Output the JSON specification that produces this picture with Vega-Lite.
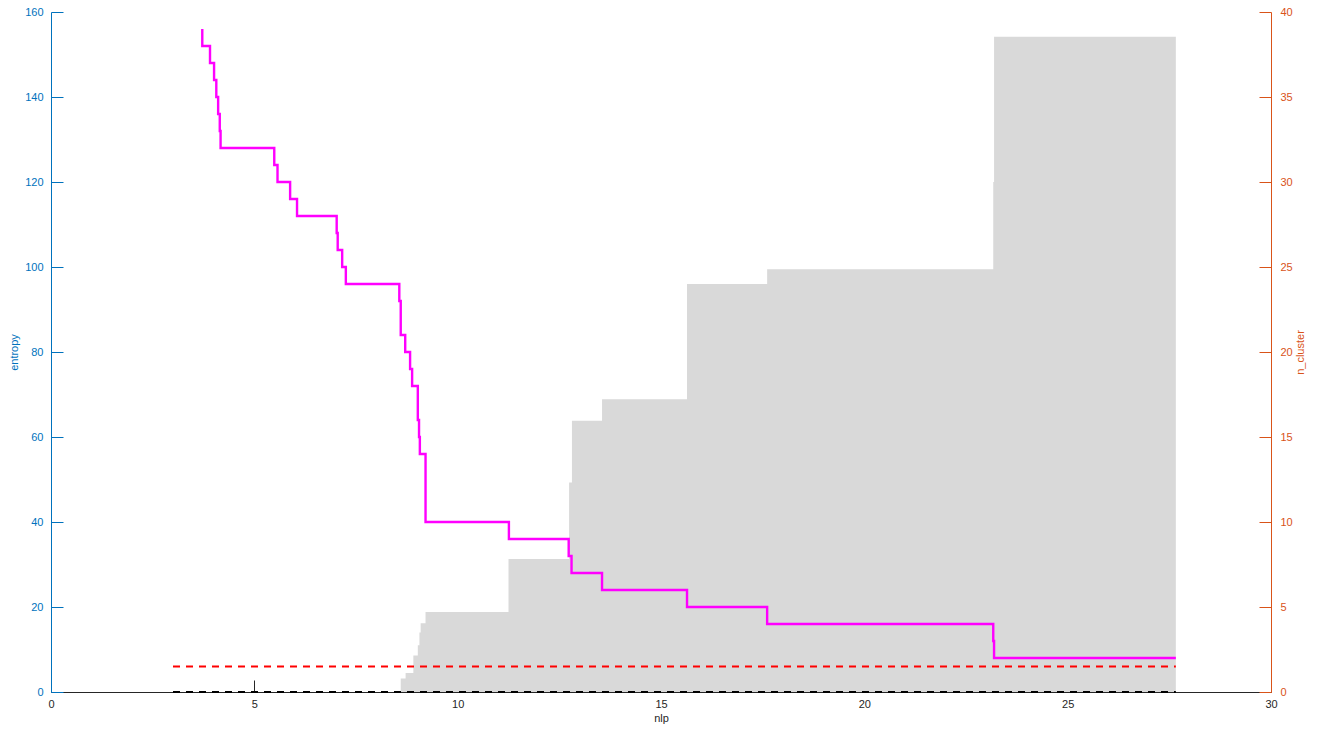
{
  "$schema": "https://vega.github.io/schema/vega-lite/v6.json",
  "autosize": {"type": "none"},
  "padding": {"left": 51, "top": 12, "right": 53, "bottom": 37},
  "width": 1220,
  "height": 680,
  "background": "white",
  "config": {
    "view": {"stroke": null},
    "font": "Liberation Sans",
    "axis": {"labelFont": "Liberation Sans", "titleFont": "Liberation Sans", "labelFontSize": 11, "titleFontSize": 11, "titleFontWeight": "normal", "grid": false}
  },
  "datasets": {
    "entropy": [
      {"nlp": 8.60, "entropy": 3.2},
      {"nlp": 8.72, "entropy": 4.5},
      {"nlp": 8.91, "entropy": 8.6},
      {"nlp": 9.02, "entropy": 11.0},
      {"nlp": 9.06, "entropy": 14.0},
      {"nlp": 9.09, "entropy": 16.2},
      {"nlp": 9.21, "entropy": 18.8},
      {"nlp": 11.25, "entropy": 31.3},
      {"nlp": 12.74, "entropy": 49.3},
      {"nlp": 12.81, "entropy": 63.8},
      {"nlp": 13.55, "entropy": 68.9},
      {"nlp": 15.64, "entropy": 96.0},
      {"nlp": 17.61, "entropy": 99.5},
      {"nlp": 23.17, "entropy": 120.0},
      {"nlp": 23.19, "entropy": 154.2},
      {"nlp": 27.66, "entropy": 154.2}
    ],
    "ncluster": [
      {"nlp": 3.72, "n_cluster": 39},
      {"nlp": 3.72, "n_cluster": 38},
      {"nlp": 3.91, "n_cluster": 37},
      {"nlp": 4.01, "n_cluster": 36},
      {"nlp": 4.065, "n_cluster": 35},
      {"nlp": 4.11, "n_cluster": 34},
      {"nlp": 4.15, "n_cluster": 33},
      {"nlp": 4.17, "n_cluster": 32},
      {"nlp": 5.49, "n_cluster": 31},
      {"nlp": 5.57, "n_cluster": 30},
      {"nlp": 5.88, "n_cluster": 29},
      {"nlp": 6.05, "n_cluster": 28},
      {"nlp": 7.025, "n_cluster": 27},
      {"nlp": 7.05, "n_cluster": 26},
      {"nlp": 7.16, "n_cluster": 25},
      {"nlp": 7.25, "n_cluster": 24},
      {"nlp": 8.565, "n_cluster": 23},
      {"nlp": 8.60, "n_cluster": 21},
      {"nlp": 8.71, "n_cluster": 20},
      {"nlp": 8.83, "n_cluster": 19},
      {"nlp": 8.88, "n_cluster": 18},
      {"nlp": 9.02, "n_cluster": 16},
      {"nlp": 9.05, "n_cluster": 15},
      {"nlp": 9.07, "n_cluster": 14},
      {"nlp": 9.21, "n_cluster": 10},
      {"nlp": 11.26, "n_cluster": 9},
      {"nlp": 12.73, "n_cluster": 8},
      {"nlp": 12.80, "n_cluster": 7},
      {"nlp": 13.55, "n_cluster": 6},
      {"nlp": 15.64, "n_cluster": 5},
      {"nlp": 17.61, "n_cluster": 4},
      {"nlp": 23.17, "n_cluster": 3},
      {"nlp": 23.19, "n_cluster": 2},
      {"nlp": 27.66, "n_cluster": 2}
    ],
    "refs": [
      {"start": 3.0, "end": 27.66, "level": 6, "kind": "threshold"},
      {"start": 3.0, "end": 27.66, "level": 0, "kind": "zero"}
    ]
  },
  "layer": [
    {
      "layer": [
        {
          "data": {"name": "entropy"},
          "mark": {"type": "area", "interpolate": "step-after", "color": "#d9d9d9", "opacity": 1},
          "encoding": {
            "x": {"field": "nlp", "type": "quantitative", "scale": {"domain": [0, 30], "nice": false},
              "axis": {"title": "nlp", "values": [0, 5, 10, 15, 20, 25, 30], "tickSize": -12, "tickColor": "#262626", "domainColor": "#262626", "labelColor": "#262626", "titleColor": "#262626", "labelPadding": 18, "titlePadding": 3, "labelFlush": false}},
            "y": {"field": "entropy", "type": "quantitative", "scale": {"domain": [0, 160], "nice": false},
              "axis": {"title": "entropy", "orient": "left", "values": [0, 20, 40, 60, 80, 100, 120, 140, 160], "tickSize": -12, "tickColor": "#0072BD", "domainColor": "#0072BD", "labelColor": "#0072BD", "titleColor": "#0072BD", "labelPadding": 20, "titlePadding": 5, "labelFlush": false}}
          }
        },
        {
          "data": {"name": "refs"},
          "transform": [{"filter": "datum.kind == 'threshold'"}],
          "mark": {"type": "rule", "color": "#ff0000", "strokeWidth": 2, "strokeDash": [7, 6]},
          "encoding": {
            "x": {"field": "start", "type": "quantitative"},
            "x2": {"field": "end"},
            "y": {"field": "level", "type": "quantitative"}
          }
        },
        {
          "data": {"name": "refs"},
          "transform": [{"filter": "datum.kind == 'zero'"}],
          "mark": {"type": "rule", "color": "#000000", "strokeWidth": 2, "strokeDash": [7, 6]},
          "encoding": {
            "x": {"field": "start", "type": "quantitative"},
            "x2": {"field": "end"},
            "y": {"field": "level", "type": "quantitative"}
          }
        }
      ]
    },
    {
      "data": {"name": "ncluster"},
      "mark": {"type": "line", "interpolate": "step-after", "color": "#ff00ff", "strokeWidth": 2.4},
      "encoding": {
        "x": {"field": "nlp", "type": "quantitative"},
        "y": {"field": "n_cluster", "type": "quantitative", "scale": {"domain": [0, 40], "nice": false},
          "axis": {"title": "n_cluster", "orient": "right", "values": [0, 5, 10, 15, 20, 25, 30, 35, 40], "tickSize": -12, "tickColor": "#D95319", "domainColor": "#D95319", "labelColor": "#D95319", "titleColor": "#D95319", "labelPadding": 21, "titlePadding": 13, "titleAngle": 270, "labelFlush": false}}
      }
    }
  ],
  "resolve": {"scale": {"y": "independent"}}
}
